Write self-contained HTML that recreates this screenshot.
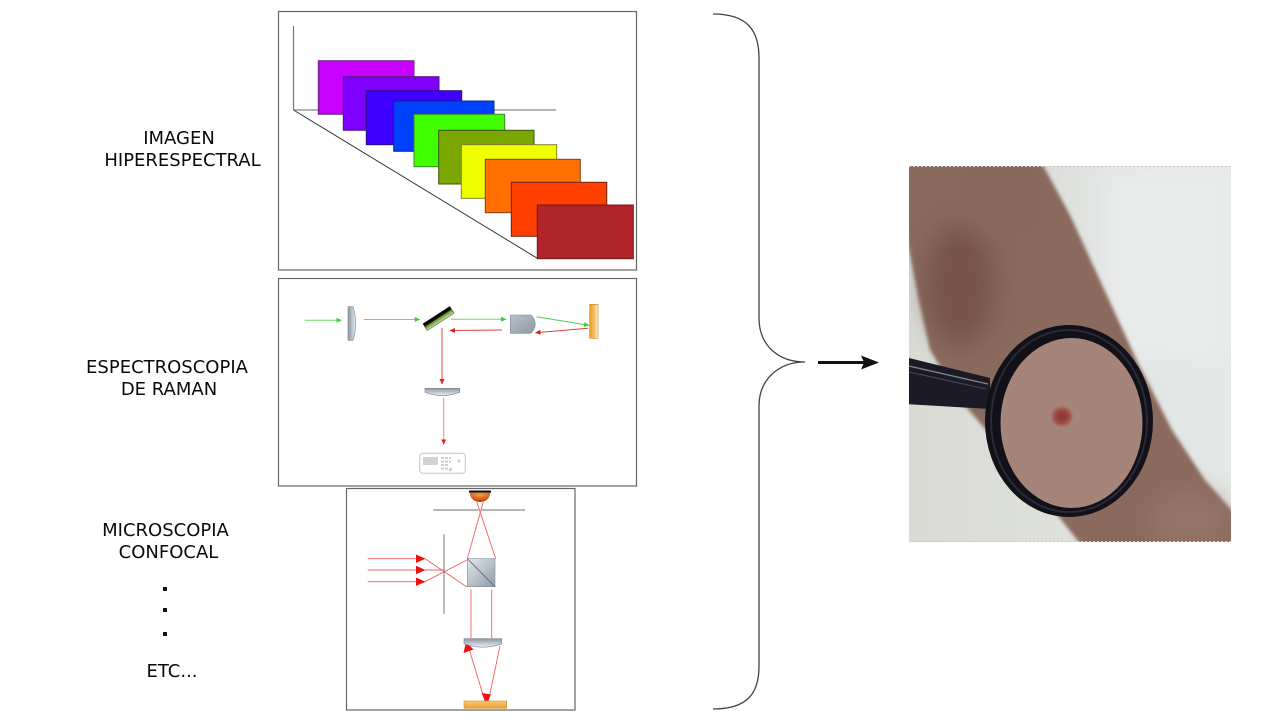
<!DOCTYPE html>
<html><head><meta charset="utf-8"><style>
html,body{margin:0;padding:0;background:#fff;}
svg{display:block;}
text{font-family:"DejaVu Sans","Liberation Sans",sans-serif;font-size:18px;fill:#0a0a0a;}
</style></head><body>
<svg width="1280" height="720" viewBox="0 0 1280 720" xmlns="http://www.w3.org/2000/svg">
<defs>
<linearGradient id="lensH" x1="0" y1="0" x2="1" y2="0"><stop offset="0" stop-color="#8a96a2"/><stop offset="1" stop-color="#e6eaee"/></linearGradient>
<linearGradient id="lensV" x1="0" y1="0" x2="0" y2="1"><stop offset="0" stop-color="#8a96a2"/><stop offset="1" stop-color="#eef1f3"/></linearGradient>
<linearGradient id="objG" x1="0" y1="0" x2="1" y2="1"><stop offset="0" stop-color="#b8c2cb"/><stop offset="1" stop-color="#8d99a5"/></linearGradient>
<linearGradient id="cubeG" x1="0" y1="0" x2="1" y2="1"><stop offset="0" stop-color="#e4e8ec"/><stop offset="1" stop-color="#8f9ba7"/></linearGradient>
<linearGradient id="orangeH" x1="0" y1="0" x2="1" y2="0"><stop offset="0" stop-color="#f09a20"/><stop offset="0.6" stop-color="#f6c070"/><stop offset="1" stop-color="#fff6e6"/></linearGradient>
<linearGradient id="orangeV" x1="0" y1="0" x2="0" y2="1"><stop offset="0" stop-color="#f7c66e"/><stop offset="1" stop-color="#f0a030"/></linearGradient>
<linearGradient id="mirG" x1="0" y1="0" x2="0" y2="1"><stop offset="0" stop-color="#000"/><stop offset="0.4" stop-color="#111"/><stop offset="0.45" stop-color="#5a8a20"/><stop offset="1" stop-color="#c8eaa0"/></linearGradient>
<radialGradient id="domeG" cx="0.5" cy="0.2" r="0.8"><stop offset="0" stop-color="#f0a040"/><stop offset="0.6" stop-color="#e06020"/><stop offset="1" stop-color="#b03010"/></radialGradient>
<linearGradient id="bgG" x1="0" y1="0" x2="1" y2="0"><stop offset="0" stop-color="#d9dad4"/><stop offset="1" stop-color="#e4e8e7"/></linearGradient>
<marker id="gA" markerWidth="6" markerHeight="6" refX="5" refY="3" orient="auto" markerUnits="userSpaceOnUse"><path d="M0,0.5 L5.5,3 L0,5.5 Z" fill="#3ccc3c"/></marker>
<marker id="rA" markerWidth="6" markerHeight="6" refX="5" refY="3" orient="auto" markerUnits="userSpaceOnUse"><path d="M0,0.5 L5.5,3 L0,5.5 Z" fill="#e02020"/></marker>
<clipPath id="photoClip"><rect x="909" y="166" width="322" height="376"/></clipPath>
<filter id="blur3" x="-20%" y="-20%" width="140%" height="140%"><feGaussianBlur stdDeviation="1.8"/></filter>
<filter id="blur10" x="-50%" y="-50%" width="200%" height="200%"><feGaussianBlur stdDeviation="12"/></filter>
<filter id="blur1" x="-50%" y="-50%" width="200%" height="200%"><feGaussianBlur stdDeviation="1.5"/></filter>
</defs>

<!-- Labels -->
<text x="179" y="144" text-anchor="middle">IMAGEN</text>
<text x="182.5" y="166" text-anchor="middle">HIPERESPECTRAL</text>
<text x="167" y="373" text-anchor="middle">ESPECTROSCOPIA</text>
<text x="169" y="395" text-anchor="middle">DE RAMAN</text>
<text x="165.5" y="536" text-anchor="middle">MICROSCOPIA</text>
<text x="168.5" y="558" text-anchor="middle">CONFOCAL</text>
<rect x="163" y="587" width="4" height="4" fill="#111"/>
<rect x="163" y="608" width="4" height="4" fill="#111"/>
<rect x="163" y="632" width="4" height="4" fill="#111"/>
<text x="172" y="677" text-anchor="middle">ETC...</text>

<!-- Box 1: hyperspectral -->
<rect x="278.5" y="11.5" width="358" height="258.5" fill="#fff" stroke="#666" stroke-width="1.2"/>
<line x1="293.5" y1="26" x2="293.5" y2="110" stroke="#777" stroke-width="1.2"/>
<line x1="293.5" y1="110" x2="556" y2="110" stroke="#888" stroke-width="1.2"/>
<line x1="293.5" y1="110" x2="537.3" y2="258.3" stroke="#333" stroke-width="1"/>
<g stroke-width="1">
<rect x="318.3" y="60.7" width="95.7" height="53.6" fill="#c800ff" stroke="#6a2a7a"/>
<rect x="343.3" y="76.7" width="95.7" height="53.6" fill="#8000ff" stroke="#4a1a80"/>
<rect x="366.3" y="90.7" width="95.4" height="54" fill="#4000ff" stroke="#2a1080"/>
<rect x="393.7" y="101" width="100.3" height="50.3" fill="#0040ff" stroke="#102a80"/>
<rect x="414" y="114.3" width="90.7" height="52.4" fill="#40ff00" stroke="#408030"/>
<rect x="438.7" y="130.3" width="95.3" height="53.7" fill="#7aa800" stroke="#3a5010"/>
<rect x="461.3" y="144.7" width="95.4" height="53.6" fill="#f0ff00" stroke="#808030"/>
<rect x="485.3" y="159.3" width="95" height="53.4" fill="#ff7000" stroke="#804020"/>
<rect x="511.3" y="182.3" width="95.4" height="54" fill="#ff4000" stroke="#702010"/>
<rect x="537.3" y="205" width="96" height="53.7" fill="#b0242a" stroke="#6a1a1a"/>
</g>

<!-- Box 2: Raman -->
<rect x="278.5" y="278.5" width="358" height="207.5" fill="#fff" stroke="#666" stroke-width="1.2"/>
<line x1="304.7" y1="320.3" x2="341.3" y2="320.3" stroke="#66dd66" stroke-width="1" marker-end="url(#gA)"/>
<path d="M348,306.7 L353,306.7 Q358.5,323.5 353,340.3 L348,340.3 Z" fill="url(#lensH)" stroke="#7a8590" stroke-width="0.6"/>
<line x1="363.7" y1="319.5" x2="419.7" y2="319.5" stroke="#66dd66" stroke-width="1" marker-end="url(#gA)"/>
<g transform="translate(438.5,318.5) rotate(-33)">
<rect x="-16" y="-4" width="32" height="8" fill="url(#mirG)" stroke="#333" stroke-width="0.5"/>
</g>
<line x1="451" y1="319.3" x2="506" y2="319.3" stroke="#66dd66" stroke-width="1" marker-end="url(#gA)"/>
<path d="M510.3,315 L531,315 Q539.5,324 531,333.3 L510.3,333.3 Z" fill="url(#objG)" stroke="#7a8590" stroke-width="0.6"/>
<line x1="536.5" y1="316.7" x2="589" y2="325.3" stroke="#55cc55" stroke-width="1" marker-end="url(#gA)"/>
<rect x="589.7" y="304.3" width="8.3" height="34" fill="url(#orangeH)" stroke="#c88020" stroke-width="0.6"/>
<line x1="588" y1="328.3" x2="535.5" y2="332.7" stroke="#e04040" stroke-width="1" marker-end="url(#rA)"/>
<line x1="502" y1="330" x2="450" y2="330.5" stroke="#e04040" stroke-width="1" marker-end="url(#rA)"/>
<line x1="442" y1="328" x2="442" y2="384" stroke="#e04040" stroke-width="1" marker-end="url(#rA)"/>
<path d="M425,388.3 L459.7,388.3 L459.7,392.2 Q442.3,399 425,392.2 Z" fill="url(#lensV)" stroke="#7a8590" stroke-width="0.6"/>
<line x1="443.7" y1="397.7" x2="443.7" y2="444.3" stroke="#ec8a8a" stroke-width="1" marker-end="url(#rA)"/>
<rect x="419.7" y="453.3" width="45.6" height="20" rx="3" fill="#fff" stroke="#c4c4c4" stroke-width="1"/>
<rect x="423" y="457" width="15" height="8" fill="#d2d2d2"/>
<g fill="#cfcfcf">
<rect x="441" y="457" width="3" height="2"/><rect x="445" y="457" width="3" height="2"/><rect x="449" y="457" width="2" height="2"/>
<rect x="441" y="460.5" width="3" height="2"/><rect x="445" y="460.5" width="3" height="2"/><rect x="449" y="460.5" width="2" height="2"/>
<rect x="441" y="464" width="3" height="2"/><rect x="445" y="464" width="3" height="2"/>
<rect x="441" y="467.5" width="3" height="2"/><rect x="445" y="467.5" width="3" height="2"/>
<rect x="449" y="468" width="3" height="3"/>
<circle cx="459" cy="461" r="1.6"/>
</g>

<!-- Box 3: Confocal -->
<rect x="346.5" y="488.5" width="228.5" height="221.5" fill="#fff" stroke="#666" stroke-width="1.2"/>
<rect x="469" y="490.5" width="22" height="2.2" fill="#111"/>
<path d="M470,492.7 L490,492.7 Q490,501 480,502 Q470,501 470,492.7 Z" fill="url(#domeG)"/>
<line x1="433.3" y1="510" x2="478.5" y2="510" stroke="#8a8a8a" stroke-width="1.2"/>
<line x1="481.5" y1="510" x2="525" y2="510" stroke="#8a8a8a" stroke-width="1.2"/>
<g stroke="#f06060" stroke-width="0.9" fill="none">
<line x1="476.5" y1="501" x2="495.7" y2="558.7"/>
<line x1="483.5" y1="501" x2="467.3" y2="558.7"/>
<line x1="367.7" y1="558.7" x2="417" y2="558.7"/>
<line x1="367.7" y1="570" x2="417" y2="570"/>
<line x1="367.7" y1="581.7" x2="417" y2="581.7"/>
<line x1="425" y1="558.7" x2="467" y2="587"/>
<line x1="425" y1="581.7" x2="467" y2="560"/>
<line x1="425" y1="570" x2="444" y2="570"/>
<line x1="471" y1="589.5" x2="471" y2="638"/>
<line x1="491.7" y1="589.5" x2="491.7" y2="638"/>
<line x1="468.5" y1="647" x2="485.5" y2="703"/>
<line x1="500" y1="646" x2="488" y2="703"/>
</g>
<line x1="444" y1="534.3" x2="444" y2="613.7" stroke="#8a8a8a" stroke-width="1.2"/>
<rect x="467.3" y="558.7" width="27.7" height="28" fill="url(#cubeG)" stroke="#8090a0" stroke-width="0.6"/>
<line x1="467.3" y1="558.7" x2="495" y2="586.7" stroke="#5a6470" stroke-width="0.8"/>
<g fill="#ee1010">
<path d="M416,554.5 L425.5,558.7 L416,562.9 Z"/>
<path d="M416,565.8 L425.5,570 L416,574.2 Z"/>
<path d="M416,577.5 L425.5,581.7 L416,585.9 Z"/>
<path d="M466,642 L463.5,653 L473.5,649.5 Z"/>
<path d="M486.5,703.5 L481.5,693 L491,694.5 Z"/>
</g>
<path d="M464,638.7 L501.7,638.7 L501.7,643.8 Q482.8,650.5 464,643.8 Z" fill="url(#lensV)" stroke="#7a8590" stroke-width="0.6"/>
<rect x="464" y="701" width="42.7" height="7.3" fill="url(#orangeV)" stroke="#d09040" stroke-width="0.6"/>

<!-- Brace -->
<path d="M713,14 C747,14 759,30 759,58 L759,318 C759,346 779,362 805,362 C779,362 759,379 759,406 L759,666 C759,694 747,709 713,709" fill="none" stroke="#444" stroke-width="1.3"/>
<!-- Arrow -->
<line x1="818" y1="362.5" x2="866" y2="362.5" stroke="#111" stroke-width="3"/>
<path d="M861,355.5 L879,362.5 L861,369.5 L864,362.5 Z" fill="#111"/>

<!-- Photo -->
<g clip-path="url(#photoClip)">
<rect x="909" y="166" width="322" height="376" fill="url(#bgG)"/>
<rect x="1100" y="166" width="131" height="200" fill="#e8ebea" filter="url(#blur10)"/>
<path d="M900,160 L1040,160 L1070,215 L1092,263 L1138,363 L1172,430 L1205,480 L1236,515 L1236,550 L1085,550 L1030,480 L960,400 L930,350 L918,296 L909,250 L900,205 Z" fill="#8a6b5d" filter="url(#blur3)"/>
<ellipse cx="960" cy="285" rx="35" ry="60" fill="#6e4c42" opacity="0.7" filter="url(#blur10)"/>
<ellipse cx="1000" cy="200" rx="40" ry="35" fill="#86685a" opacity="0.6" filter="url(#blur10)"/>
<ellipse cx="1190" cy="520" rx="40" ry="30" fill="#9a7c6e" opacity="0.6" filter="url(#blur10)"/>
<!-- handle -->
<path d="M905,357 L990,378 L990,409 L905,404 Z" fill="#1b1a26"/>
<path d="M909,366 L988,384" stroke="#9a9aa8" stroke-width="1.4" opacity="0.8"/>
<path d="M909,372 L986,389" stroke="#55556a" stroke-width="1" opacity="0.8"/>
<!-- ring -->
<ellipse cx="1069" cy="421" rx="84" ry="96" fill="#121119"/>
<ellipse cx="1069" cy="421" rx="78" ry="91" fill="none" stroke="#2a2938" stroke-width="2"/>
<ellipse cx="1071.5" cy="423" rx="71" ry="85" fill="#a5857a"/>
<ellipse cx="1062" cy="416.5" rx="9.5" ry="9" fill="#a04848" filter="url(#blur1)"/>
<ellipse cx="1062" cy="416.5" rx="5" ry="5" fill="#8e3838" filter="url(#blur1)"/>
</g>
<line x1="909" y1="166.5" x2="1231" y2="166.5" stroke="#c8c8c8" stroke-width="1" stroke-dasharray="2,2"/>
<line x1="909" y1="541.5" x2="1231" y2="541.5" stroke="#c8c8c8" stroke-width="1" stroke-dasharray="2,2"/>
</svg>
</body></html>
